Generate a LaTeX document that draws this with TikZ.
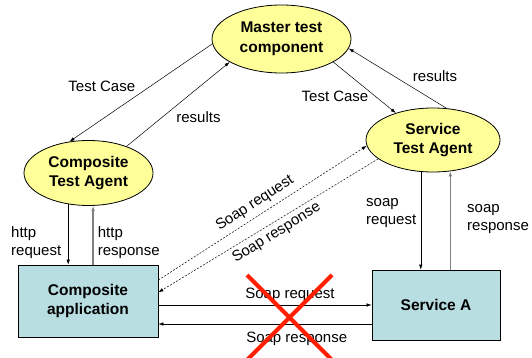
\documentclass[tikz,border=0pt]{standalone}
\usepackage{fontspec}
\setmainfont{Liberation Sans}
\usetikzlibrary{shapes.geometric,arrows.meta}
\definecolor{agentfill}{RGB}{255,255,153}
\definecolor{appfill}{RGB}{185,222,226}
\definecolor{crossred}{RGB}{255,30,0}
\begin{document}
\begin{tikzpicture}[x=1pt,y=-1pt,
  agent/.style={ellipse,draw,line width=0.8pt,fill=agentfill,inner sep=0pt,align=center,
    font=\bfseries\fontsize{15.5}{19.5}\selectfont},
  appbox/.style={rectangle,draw,line width=0.8pt,fill=appfill,inner sep=0pt,align=center,
    font=\bfseries\fontsize{15.5}{19.5}\selectfont},
  lbl/.style={inner sep=0pt,font=\fontsize{15}{18}\selectfont},
  flow/.style={-{Latex[length=5pt,width=3.5pt]},line width=0.5pt},
  back/.style={flow,draw=gray,line width=1.3pt},
  soapdash/.style={flow,dash pattern=on 2pt off 1.5pt},
  cross/.style={draw=crossred,line width=4pt}]
\useasboundingbox (0,0) rectangle (532,358);

% components
\node[agent,minimum width=139pt,minimum height=68pt] (master) at (281.5,39) {Master test\\component};
\node[agent,minimum width=129pt,minimum height=65pt] (cta) at (88.5,173) {Composite\\Test Agent};
\node[agent,minimum width=134pt,minimum height=64pt] (sta) at (433,140) {Service\\Test Agent};
\node[appbox,minimum width=140pt,minimum height=72pt] (capp) at (88,301) {Composite\\application};
\node[appbox,minimum width=128pt,minimum height=70pt] (sa) at (436,305) {Service A};

% master <-> agents
\draw[flow] (master.184) -- (cta.121.8);
\draw[flow] (cta.35.7) -- (master.204);
\draw[flow] (master.336.4) -- (sta.144.4);
\draw[flow] (sta.67) -- (master.352.6);
\node[lbl] (tc1) at (101.8,86.5) {Test Case};
\node[lbl] (res1) at (198.5,117) {results};
\node[lbl] (tc2) at (335,96.7) {Test Case};
\node[lbl] (res2) at (435,76.3) {results};

% composite agent <-> composite application
\draw[flow] (cta.237.8) -- (cta.237.8 |- capp.north);
\draw[back] (cta.278.4 |- capp.north) -- (cta.278.4);
\node[lbl,align=left,anchor=west] (httpreq) at (11,242.5) {http\\request};
\node[lbl,align=left,anchor=west] (httpres) at (97.7,242.5) {http\\response};

% service agent <-> service
\draw[flow] (sta.249.1) -- (sta.249.1 |- sa.north);
\draw[back] (sta.299.8 |- sa.north) -- (sta.299.8);
\node[lbl,align=left,anchor=west] (sreq) at (366,213) {soap\\request};
\node[lbl,align=left,anchor=west] (sres) at (467,219) {soap\\response};

% redirected soap traffic
\draw[soapdash] ([yshift=21pt]capp.east) -- (sta.185.6);
\draw[soapdash] (sta.199.5) -- ([yshift=8.7pt]capp.east);
\node[lbl,rotate=33] (dreq) at (255,203.3) {Soap request};
\node[lbl,rotate=32] (dres) at (276.7,233) {Soap response};

% direct soap traffic
\draw[flow] (sa.west -| capp.east) -- (sa.west);
\draw[flow] ([yshift=-19pt]sa.west) -- ([yshift=-23pt]capp.east);
\node[lbl] (hreq) at (290,295) {Soap request};
\node[lbl] (hres) at (296.7,339) {Soap response};

% the direct link is cut
\draw[cross] (247,275) -- (333,361);
\draw[cross] (332,275) -- (246,361);
\end{tikzpicture}
\end{document}
